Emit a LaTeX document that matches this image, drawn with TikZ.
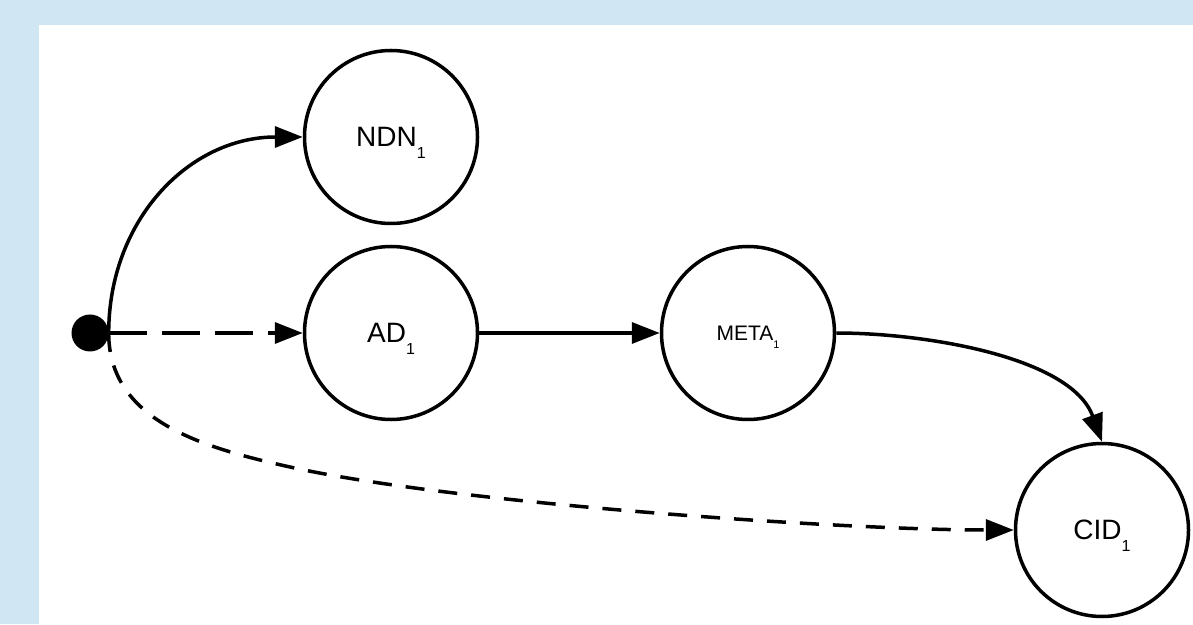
\documentclass[tikz,border=0pt]{standalone}
\usepackage{fontspec}
\setmainfont{Liberation Sans}
\usetikzlibrary{arrows.meta,positioning}
\definecolor{frame}{HTML}{D0E6F3}
\newcommand{\lowone}[2]{\raisebox{#1}[0pt][0pt]{\fontsize{#2}{#2}\selectfont 1}}

\begin{document}
\begin{tikzpicture}[x=10pt, y=10pt,
    state/.style={draw, circle, line width=3.5pt, minimum size=173pt, inner sep=0pt,
                  font=\fontsize{28}{30}\selectfont},
    dot/.style={circle, fill=black, minimum size=37pt, inner sep=0pt},
    edge/.style={line width=3.5pt, -{Triangle[length=28pt, width=21pt]}},
    longdash/.style={dash pattern=on 38pt off 15pt},
    shortdash/.style={dash pattern=on 19pt off 14pt}]
  % frame
  \fill[frame] (0,0) rectangle (119.3,62.4);
  \fill[white] (3.9,0) rectangle (119.3,59.9);
  % states
  \node[dot] (start) at (9.0,29.1) {};
  \node[state] (ndn) at (39.1,48.7) {NDN\lowone{-12pt}{16}};
  \node[state] (ad) at (39.1,29.1) {AD\lowone{-12pt}{16}};
  \node[state, font=\fontsize{21}{23}\selectfont] (meta) at (74.8,29.1) {META\lowone{-8pt}{11}};
  \node[state] (cid) at (110.2,9.4) {CID\lowone{-12pt}{16}};
  \coordinate (bend) at (29.0,15.7);
  % transitions
  \draw[edge] (start.east) to[out=90, in=180, looseness=1.05] (ndn.west);
  \draw[edge, longdash] (start.east) -- (ad.west);
  \draw[edge, shortdash] (start.east) to[out=-90, in=167.5] (bend)
        to[out=-12.5, in=180, looseness=0.6] (cid.west);
  \draw[edge] (ad) -- (meta);
  \draw[edge] (meta.east) to[out=0, in=110, looseness=0.8] (cid.north);
\end{tikzpicture}
\end{document}
